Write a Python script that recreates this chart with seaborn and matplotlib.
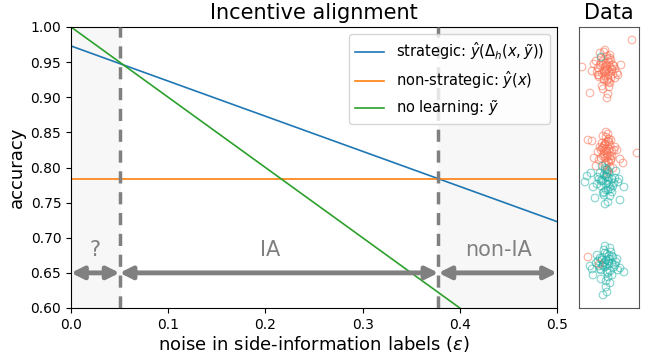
import matplotlib
matplotlib.use("Agg")
import matplotlib.pyplot as plt
import seaborn as sns

# main panel data
noise = [0.0, 0.5]
strategic = [0.973, 0.723]
non_strategic = [0.784, 0.784]
no_learning = [1.0, 0.5]
boundaries = [0.05, 0.378]
region_labels = ["?", "IA", "non-IA"]
region_centers = [0.025, 0.205, 0.44]

# "Data" panel points (x, y in panel units)
top_x = [22, 27, 31, 18, 25, 35, 29, 24, 33, 20, 28, 30, 26, 38, 15, 23, 32, 27, 29, 21,
         34, 25, 28, 31, 19, 26, 30, 36, 24, 27, 22, 33, 29, 25, 3, 11, 28, 26, 31, 23,
         30, 27, 20, 36, 28, 24, 32, 29, 26, 53, 17, 39, 21, 34, 30, 13, 42, 25, 31, 19]
top_y = [245, 238, 250, 236, 228, 242, 233, 247, 239, 231, 252, 226, 241, 235, 244, 222,
         248, 237, 229, 243, 234, 256, 239, 225, 240, 232, 246, 230, 219, 242, 250, 238,
         214, 236, 241, 215, 227, 258, 241, 235, 221, 245, 233, 239, 210, 243, 230, 249,
         237, 268, 247, 233, 255, 243, 236, 237, 243, 229, 253, 233]
mid_s_x = [24, 28, 31, 26, 29, 22, 33, 27, 30, 25, 28, 32, 23, 29, 27, 35, 21, 26, 30, 28,
           9, 13, 58, 27, 31, 24, 29, 26, 33, 22, 28, 30, 25, 27, 36, 19, 29, 32, 26, 28,
           24, 30, 27, 34, 20, 29, 25, 31, 41, 17, 38, 15, 44, 23, 32]
mid_s_y = [160, 155, 163, 150, 167, 158, 152, 171, 146, 162, 157, 149, 165, 153, 176, 158,
           161, 143, 169, 151, 168, 167, 155, 159, 141, 172, 147, 164, 157, 150, 138, 166,
           154, 145, 161, 156, 174, 148, 163, 135, 152, 159, 166, 140, 148, 137, 157, 152,
           149, 142, 158, 150, 145, 160, 168]
mid_t_x = [27, 24, 30, 22, 33, 26, 29, 19, 35, 25, 28, 31, 23, 37, 6, 16, 41, 27, 30, 24,
           32, 21, 29, 26, 34, 28, 20, 31, 25, 39, 27, 23, 30, 28, 14, 33, 26, 29, 22, 36,
           8, 45, 18, 12, 40, 25]
mid_t_y = [132, 127, 136, 122, 129, 140, 118, 131, 125, 113, 134, 121, 128, 137, 126, 110,
           108, 124, 130, 115, 119, 135, 127, 104, 122, 139, 129, 112, 133, 126, 118, 142,
           124, 131, 121, 116, 138, 106, 127, 130, 132, 121, 124, 135, 129, 116]
bot_x = [27, 24, 30, 22, 33, 26, 29, 19, 35, 25, 28, 31, 23, 37, 14, 18, 41, 27, 30, 24,
         32, 21, 29, 26, 34, 28, 20, 31, 25, 39, 27, 23, 30, 28, 13, 33, 26, 29, 22, 36,
         24, 28, 17, 31, 26, 21, 33, 45, 11, 38]
bot_y = [48, 42, 52, 38, 45, 55, 35, 47, 41, 58, 44, 37, 50, 46, 33, 53, 40, 27, 49, 43,
         56, 39, 31, 46, 51, 36, 42, 60, 45, 38, 21, 48, 44, 54, 39, 33, 41, 47, 29, 43,
         13, 16, 45, 25, 62, 50, 52, 36, 42, 49]
stray_s_x = [9, 20]
stray_s_y = [51, 44]
stray_t_x = [22]
stray_t_y = [251]

blue, orange, green = "#1f77b4", "#ff7f0e", "#2ca02c"
salmon, teal = "#fa6e4f", "#22b2a8"

fig = plt.figure(figsize=(6.46, 3.56), dpi=100)
ax = fig.add_axes([71 / 646, 48 / 356, 486 / 646, 281 / 356])
ax2 = fig.add_axes([579 / 646, 48 / 356, 60 / 646, 281 / 356])

ax.axvspan(0, boundaries[0], color="#f7f7f7", zorder=0)
ax.axvspan(boundaries[1], 0.5, color="#f7f7f7", zorder=0)

sns.lineplot(x=noise, y=strategic, ax=ax, color=blue, lw=1.2,
             label=r"strategic: $\hat{y}(\Delta_h(x,\tilde{y}))$")
sns.lineplot(x=noise, y=non_strategic, ax=ax, color=orange, lw=1.2,
             label=r"non-strategic: $\hat{y}(x)$")
sns.lineplot(x=noise, y=no_learning, ax=ax, color=green, lw=1.2,
             label=r"no learning: $\tilde{y}$")

for b in boundaries:
    ax.axvline(b, color="gray", lw=2.5, ls=(0, (3.5, 2.5)), zorder=3)

edges = [0.0] + boundaries + [0.5]
for i in range(3):
    ax.annotate("", xy=(edges[i + 1], 0.65), xytext=(edges[i], 0.65),
                arrowprops=dict(arrowstyle="<|-|>", color="gray", lw=3.5,
                                mutation_scale=18, shrinkA=0, shrinkB=0),
                zorder=4)
    ax.text(region_centers[i], 0.668, region_labels[i], color="gray",
            fontsize=15, ha="center", va="bottom")

ax.set_xlim(0, 0.5)
ax.set_ylim(0.6, 1.0)
ax.set_title("Incentive alignment", fontsize=15)
ax.set_xlabel(r"noise in side-information labels ($\epsilon$)", fontsize=13, labelpad=2)
ax.set_ylabel("accuracy", fontsize=13, labelpad=3)
ax.legend(loc="upper right", fontsize=10.5)

kw = dict(ax=ax2, s=30, facecolor="none", linewidth=0.8, alpha=0.55, legend=False)
sns.scatterplot(x=top_x, y=top_y, edgecolor=salmon, **kw)
sns.scatterplot(x=mid_s_x, y=mid_s_y, edgecolor=salmon, **kw)
sns.scatterplot(x=mid_t_x, y=mid_t_y, edgecolor=teal, **kw)
sns.scatterplot(x=bot_x, y=bot_y, edgecolor=teal, **kw)
sns.scatterplot(x=stray_s_x, y=stray_s_y, edgecolor=salmon, **kw)
sns.scatterplot(x=stray_t_x, y=stray_t_y, edgecolor=teal, **kw)
ax2.set_xlim(0, 60)
ax2.set_ylim(0, 281)
ax2.set_xticks([])
ax2.set_yticks([])
for s in ax2.spines.values():
    s.set_color("#555555")
ax2.set_title("Data", fontsize=15)

fig.savefig("out.png", dpi=100)
